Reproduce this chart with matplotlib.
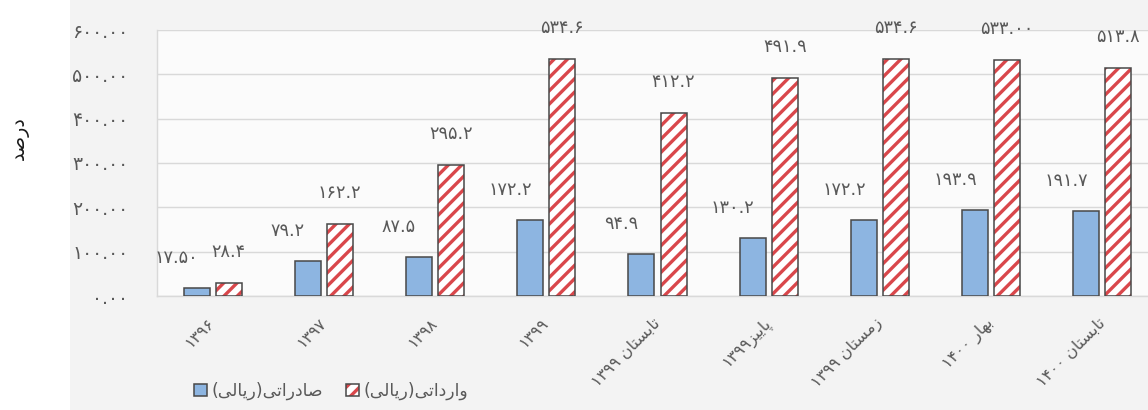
import numpy as np
import matplotlib
matplotlib.use("Agg")
import matplotlib.pyplot as plt
from matplotlib import font_manager as fm
from matplotlib import ft2font
from matplotlib.patches import Rectangle
from matplotlib.ticker import FixedLocator, FuncFormatter

# ---------------- data ----------------
categories = ["1396", "1397", "1398", "1399", "تابستان 1399", "پاییز1399",
              "زمستان 1399", "بهار 1400", "تابستان 1400"]
exports = [17.50, 79.2, 87.5, 172.2, 94.9, 130.2, 172.2, 193.9, 191.7]
imports = [28.4, 162.2, 295.2, 534.6, 412.2, 491.9, 534.6, 533.00, 513.8]
export_labels = ["17.50", "79.2", "87.5", "172.2", "94.9", "130.2", "172.2", "193.9", "191.7"]
import_labels = ["28.4", "162.2", "295.2", "534.6", "412.2", "491.9", "534.6", "533.00", "513.8"]
yticks = [0, 100, 200, 300, 400, 500, 600]
series_names = ["صادراتی(ریالی)", "وارداتی(ریالی)"]
ylabel = "درصد"

# ---------------- minimal Persian shaping ----------------
_path = fm.findfont(fm.FontProperties(family="DejaVu Sans"))
_font = ft2font.FT2Font(_path)


def _has(cp):
    try:
        return _font.get_char_index(cp) != 0
    except Exception:
        return False


if _has(0x06F4):
    DIG = [chr(0x06F0 + i) for i in range(10)]
else:
    DIG = [chr(0x0660 + i) for i in range(10)]
DIGSET = set(DIG)

FORMS = {
    "ا": (0xFE8D, 0xFE8E, None, None),
    "ب": (0xFE8F, 0xFE90, 0xFE91, 0xFE92),
    "پ": (0xFB56, 0xFB57, 0xFB58, 0xFB59),
    "ت": (0xFE95, 0xFE96, 0xFE97, 0xFE98),
    "د": (0xFEA9, 0xFEAA, None, None),
    "ر": (0xFEAD, 0xFEAE, None, None),
    "ز": (0xFEAF, 0xFEB0, None, None),
    "س": (0xFEB1, 0xFEB2, 0xFEB3, 0xFEB4),
    "ص": (0xFEB9, 0xFEBA, 0xFEBB, 0xFEBC),
    "ل": (0xFEDD, 0xFEDE, 0xFEDF, 0xFEE0),
    "م": (0xFEE1, 0xFEE2, 0xFEE3, 0xFEE4),
    "ن": (0xFEE5, 0xFEE6, 0xFEE7, 0xFEE8),
    "ه": (0xFEE9, 0xFEEA, 0xFEEB, 0xFEEC),
    "و": (0xFEED, 0xFEEE, None, None),
    "ی": (0xFBFC, 0xFBFD, 0xFBFE, 0xFBFF),
}
if not _has(0xFBFC):
    FORMS["ی"] = (0xFEEF, 0xFEF0, 0xFEF3, 0xFEF4)
if not _has(0xFB56):
    FORMS["پ"] = FORMS["ب"]


def fa_digits(s):
    return "".join(DIG[int(c)] if c.isdigit() and c.isascii() else c for c in s)


def shape(s):
    out = []
    for i, ch in enumerate(s):
        if ch not in FORMS:
            out.append(ch)
            continue
        prev = s[i - 1] if i > 0 else None
        nxt = s[i + 1] if i + 1 < len(s) else None
        jp = prev in FORMS and FORMS[prev][2] is not None
        jn = FORMS[ch][2] is not None and nxt in FORMS
        iso, fin, ini, med = FORMS[ch]
        if jp and jn:
            cp = med
        elif jp:
            cp = fin
        elif jn:
            cp = ini
        else:
            cp = iso
        out.append(chr(cp))
    return out


def fa(s):
    """Return visual (left-to-right) string for an RTL Persian label."""
    s = fa_digits(s)
    chars = shape(s)
    tokens = []
    for c in chars:
        if c in DIGSET or (c == "." and tokens and tokens[-1][0] in DIGSET):
            if tokens and tokens[-1][0] in DIGSET:
                tokens[-1] += c
                continue
        tokens.append(c)
    tokens.reverse()
    mirror = {"(": ")", ")": "("}
    return "".join(mirror.get(t, t) for t in tokens)


# ---------------- style ----------------
DPI = 80
W, H = 1148, 410
plt.rcParams["font.family"] = ["DejaVu Sans"]
plt.rcParams["hatch.linewidth"] = 3.0

BLUE = "#8db5e1"
RED = "#d9474b"
EDGE = "#4a4a4a"
TXT = "#595959"
GRID = "#d9d9d9"

fig = plt.figure(figsize=(W / DPI, H / DPI), dpi=DPI, facecolor="#f3f3f3")
fig.patches.append(Rectangle((0, 0), 70 / W, 1, transform=fig.transFigure,
                             facecolor="white", edgecolor="none", zorder=-10))

ax_left, ax_right = 157, 1158
ax_bottom, ax_top = 296, 30
ax = fig.add_axes([ax_left / W, (H - ax_bottom) / H,
                   (ax_right - ax_left) / W, (ax_bottom - ax_top) / H])
ax.set_facecolor("#fbfbfb")

x = np.arange(len(categories))
bw = 0.234
off = 0.144

ax.bar(x - off, exports, bw, color=BLUE, edgecolor=EDGE, linewidth=1.4, zorder=3)
hatch_bars = ax.bar(x + off, imports, bw, color="white", edgecolor=RED,
                    hatch="//", linewidth=0, zorder=3)
outline_bars = ax.bar(x + off, imports, bw, fill=False, edgecolor=EDGE,
                      linewidth=1.4, zorder=4)
export_patch = ax.patches[0]

LBL = 16
for xi, v, lab in zip(x, exports, export_labels):
    ax.annotate(fa_digits(lab), (xi - off, v), xytext=(-18, 27),
                textcoords="offset points", ha="center", va="center",
                fontsize=LBL, color=TXT, zorder=5)
for xi, v, lab in zip(x, imports, import_labels):
    ax.annotate(fa_digits(lab), (xi + off, v), xytext=(0, 28),
                textcoords="offset points", ha="center", va="center",
                fontsize=LBL, color=TXT, zorder=5)

ax.set_xlim(-0.5, len(categories) - 0.5)
ax.set_ylim(0, 600)
ax.yaxis.set_major_locator(FixedLocator(yticks))
ax.yaxis.set_major_formatter(FuncFormatter(lambda v, p: fa_digits(f"{v:.2f}")))
ax.grid(axis="y", color=GRID, linewidth=1.3, zorder=0)
ax.set_axisbelow(True)

ax.set_xticks(x)
ax.set_xticklabels([fa(c) for c in categories], rotation=45, ha="right",
                   va="center", rotation_mode="anchor", fontsize=14.5, color=TXT)
ax.tick_params(axis="x", length=0, pad=22)
ax.tick_params(axis="y", length=0, pad=26, labelsize=17, labelcolor=TXT)

for s in ["top", "right"]:
    ax.spines[s].set_visible(False)
ax.spines["left"].set_color(GRID)
ax.spines["bottom"].set_color(GRID)
ax.spines["left"].set_linewidth(1.3)
ax.spines["bottom"].set_linewidth(1.3)

ax.set_ylabel(fa(ylabel), fontsize=17, color="#1a1a1a", rotation=90)
ax.yaxis.set_label_coords((29 - ax_left) / (ax_right - ax_left),
                          (ax_bottom - 138) / (ax_bottom - ax_top))

leg = fig.legend([export_patch, (hatch_bars[0], outline_bars[0])],
                 [fa(n) for n in series_names],
                 loc="center left", bbox_to_anchor=(185 / W, (H - 391) / H),
                 ncol=2, frameon=False, fontsize=15.5, handlelength=0.75,
                 handleheight=0.75, handletextpad=0.3, columnspacing=1.3,
                 borderpad=0, labelcolor=TXT)

fig.savefig("out.png", dpi=DPI, facecolor=fig.get_facecolor())
